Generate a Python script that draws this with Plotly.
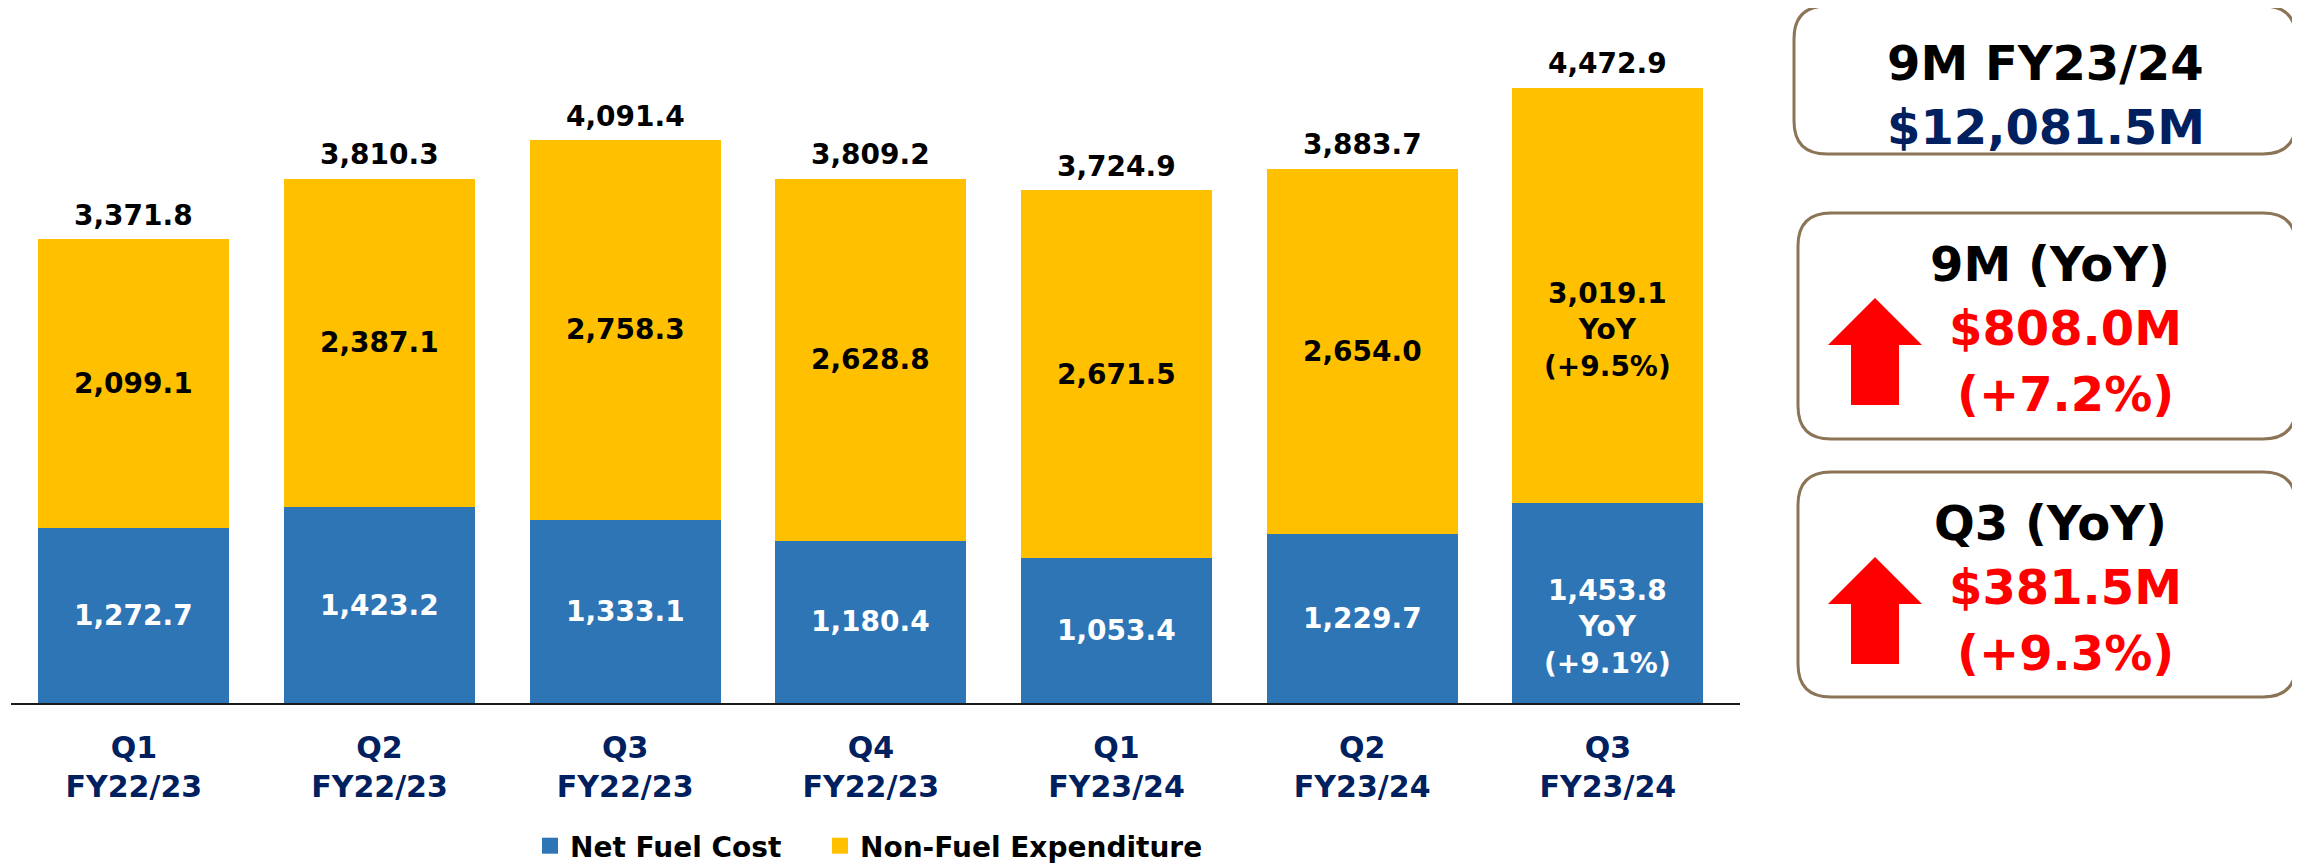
import plotly.graph_objects as go

# ---------------- data ----------------
quarters = ["Q1", "Q2", "Q3", "Q4", "Q1", "Q2", "Q3"]
fiscal_years = ["FY22/23", "FY22/23", "FY22/23", "FY22/23", "FY23/24", "FY23/24", "FY23/24"]
net_fuel_cost = [1272.7, 1423.2, 1333.1, 1180.4, 1053.4, 1229.7, 1453.8]
non_fuel_expenditure = [2099.1, 2387.1, 2758.3, 2628.8, 2671.5, 2654.0, 3019.1]
fuel_notes = ["", "", "", "", "", "", "YoY<br>(+9.1%)"]
non_fuel_notes = ["", "", "", "", "", "", "YoY<br>(+9.5%)"]

panel_titles = ["9M FY23/24", "9M (YoY)", "Q3 (YoY)"]
panel_values = ["$12,081.5M", "$808.0M", "$381.5M"]
panel_changes = ["", "(+7.2%)", "(+9.3%)"]

series_names = ["Net Fuel Cost", "Non-Fuel Expenditure"]

# ---------------- styles ----------------
PAGE_W, PAGE_H = 2300, 863
OFF = 8  # default page body margin
W, H = PAGE_W - OFF, PAGE_H - OFF
BLUE = "#2E75B6"
YELLOW = "#FFC000"
NAVY = "#002060"
RED = "#FF0000"
BROWN = "#8C7456"
FONT = "DejaVu Sans"

categories = [f"{q}<br>{fy}" for q, fy in zip(quarters, fiscal_years)]
totals = [round(a + b, 1) for a, b in zip(net_fuel_cost, non_fuel_expenditure)]


def X(px):
    return (px - OFF) / W


def Y(py):
    return 1 - (py - OFF) / H


fig = go.Figure()
fig.add_trace(go.Bar(x=categories, y=net_fuel_cost, name=series_names[0],
                     marker=dict(color=BLUE, line=dict(width=0)), showlegend=False,
                     hoverinfo="y"))
fig.add_trace(go.Bar(x=categories, y=non_fuel_expenditure, name=series_names[1],
                     marker=dict(color=YELLOW, line=dict(width=0)), showlegend=False,
                     hoverinfo="y"))
# legend entries (square swatches), one legend box per series
for name, col, lg in zip(series_names, [BLUE, YELLOW], ["legend", "legend2"]):
    fig.add_trace(go.Scatter(x=[None], y=[None], mode="markers", name=name,
                             marker=dict(symbol="square", size=16, color=col),
                             showlegend=True, legend=lg))

annotations = []
label_font = dict(family=FONT, size=28, weight="bold")
for cat, f, nf, tot, fn, nfn in zip(categories, net_fuel_cost, non_fuel_expenditure,
                                    totals, fuel_notes, non_fuel_notes):
    txt = f"{f:,.1f}" + (f"<br>{fn}" if fn else "")
    annotations.append(dict(x=cat, y=f / 2, xref="x", yref="y", text=txt,
                            showarrow=False, font=dict(label_font, color="white"),
                            xanchor="center", yanchor="middle", yshift=-24 if fn else 0))
    txt = f"{nf:,.1f}" + (f"<br>{nfn}" if nfn else "")
    annotations.append(dict(x=cat, y=f + nf / 2, xref="x", yref="y", text=txt,
                            showarrow=False, font=dict(label_font, color="black"),
                            xanchor="center", yanchor="middle", yshift=-35 if nfn else 0))
    annotations.append(dict(x=cat, y=tot, xref="x", yref="y", text=f"{tot:,.1f}",
                            showarrow=False, font=dict(label_font, color="black"),
                            xanchor="center", yanchor="middle", yshift=24))

# ---------------- side panels ----------------
shapes = []


def rounded_rect(x0, y0, x1, y1, r):
    return (f"M {X(x0 + r)},{Y(y0)} L {X(x1 - r)},{Y(y0)} "
            f"Q {X(x1)},{Y(y0)} {X(x1)},{Y(y0 + r)} L {X(x1)},{Y(y1 - r)} "
            f"Q {X(x1)},{Y(y1)} {X(x1 - r)},{Y(y1)} L {X(x0 + r)},{Y(y1)} "
            f"Q {X(x0)},{Y(y1)} {X(x0)},{Y(y1 - r)} L {X(x0)},{Y(y0 + r)} "
            f"Q {X(x0)},{Y(y0)} {X(x0 + r)},{Y(y0)} Z")


def up_arrow(cx, top):
    pts = [(cx, top), (cx + 47, top + 47), (cx + 24, top + 47), (cx + 24, top + 107),
           (cx - 24, top + 107), (cx - 24, top + 47), (cx - 47, top + 47)]
    return "M " + " L ".join(f"{X(a)},{Y(b)}" for a, b in pts) + " Z"


def panel_text(txt, cx, cy, color):
    return dict(x=X(cx), y=Y(cy), xref="paper", yref="paper", text=txt,
                showarrow=False, xanchor="center", yanchor="middle",
                font=dict(family=FONT, size=48, weight="bold", color=color))


boxes = [(1794, 6, 2296, 154), (1798, 213, 2296, 439), (1798, 472, 2296, 697)]
for i, (x0, y0, x1, y1) in enumerate(boxes):
    shapes.append(dict(type="path", xref="paper", yref="paper",
                       path=rounded_rect(x0, y0, x1, y1, 33),
                       line=dict(color=BROWN, width=3), fillcolor="white", layer="below"))
    if i == 0:
        annotations.append(panel_text(panel_titles[i], 2046, y0 + 57, "black"))
        annotations.append(panel_text(panel_values[i], 2046, y0 + 121, NAVY))
    else:
        shapes.append(dict(type="path", xref="paper", yref="paper",
                           path=up_arrow(1875, y0 + 85),
                           line=dict(width=0), fillcolor=RED))
        annotations.append(panel_text(panel_titles[i], 2050, y0 + 51, "black"))
        annotations.append(panel_text(panel_values[i], 2065, y0 + 115, RED))
        annotations.append(panel_text(panel_changes[i], 2065, y0 + 181, RED))

plot_left, plot_right, plot_top, plot_bottom = 11, 1740, 42.5, 703

legend_style = dict(orientation="h", xanchor="left", yanchor="middle", y=Y(846),
                    font=dict(family=FONT, size=28, color="black", weight="bold"),
                    bgcolor="rgba(0,0,0,0)", itemsizing="trace")

fig.update_layout(
    width=W, height=H,
    barmode="stack", bargap=0.223,
    plot_bgcolor="white", paper_bgcolor="white",
    margin=dict(l=0, r=0, t=0, b=0, autoexpand=False),
    font=dict(family=FONT, color="black"),
    xaxis=dict(domain=[X(plot_left), X(plot_right)], range=[-0.5, 6.538],
               showline=True, linecolor="#1a1a1a", linewidth=2,
               ticks="outside", ticklen=3, tickcolor="rgba(0,0,0,0)",
               showgrid=False, automargin=False, ticklabelstandoff=14,
               tickfont=dict(family=FONT, size=30, color=NAVY, weight="bold")),
    yaxis=dict(domain=[Y(plot_bottom), Y(plot_top)], range=[0, 4800], visible=False,
               showgrid=False, automargin=False),
    legend=dict(legend_style, x=X(530)),
    legend2=dict(legend_style, x=X(820)),
    shapes=shapes,
    annotations=annotations,
    showlegend=True,
)

fig.write_html("out.html")
